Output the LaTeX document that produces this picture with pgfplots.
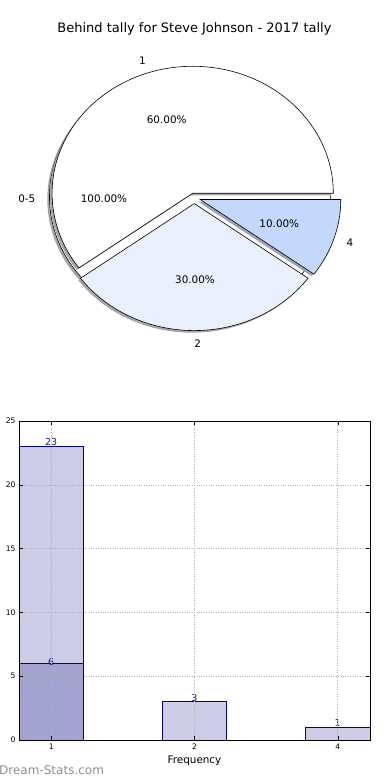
\documentclass[border=0pt]{standalone}
\usepackage{pgfplots}
\pgfplotsset{compat=1.18}
\usepackage{fontspec}
\setmainfont{DejaVu Sans}
\definecolor{wA}{HTML}{FFFFFF}
\definecolor{wB}{HTML}{E9F0FD}
\definecolor{wC}{HTML}{C4D8FE}
\definecolor{shW}{HTML}{A6A6A6}
\definecolor{shC}{HTML}{9DA4B3}
\definecolor{barL}{HTML}{CCCCE6}
\definecolor{barD}{HTML}{A3A3D1}
\definecolor{navyE}{HTML}{000080}
\definecolor{labC}{HTML}{1A1A8C}
\definecolor{gridc}{HTML}{B0B0B0}
\definecolor{wm}{HTML}{8E8E8E}

% pie data (counts of tallies)
\def\pA{6}\def\pB{3}\def\pC{1}
\pgfmathsetmacro\aA{360*\pA/(\pA+\pB+\pC)}
\pgfmathsetmacro\aB{\aA+360*\pB/(\pA+\pB+\pC)}

\begin{document}
\begin{tikzpicture}[x=1pt,y=1pt]
\useasboundingbox (0pt,0pt) rectangle (390pt,780pt);
% ---------------- pie ----------------
\begin{axis}[at={(0pt,0pt)}, anchor=south west, x=1pt, y=1pt,
  xmin=0, xmax=390, ymin=0, ymax=780, hide axis, clip=false]
  % outer 100% wedge "0-5"
  \fill[shW] (axis cs:187.9,580.9) ellipse [x radius=140.6pt, y radius=127pt];
  \filldraw[fill=wA, draw=black, line width=0.6pt] (axis cs:190.1,583) ellipse [x radius=140.6pt, y radius=127pt];
  % wedge 1
  \fill[shW] (axis cs:190.5,584.6) -- ++(0:140.6pt and 127pt) arc[start angle=0, end angle=\aA, x radius=140.6pt, y radius=127pt] -- cycle;
  \filldraw[fill=wA, draw=black, line width=0.6pt] (axis cs:192.7,586.7) -- ++(0:140.6pt and 127pt) arc[start angle=0, end angle=\aA, x radius=140.6pt, y radius=127pt] -- cycle;
  % wedge 2
  \fill[shW] (axis cs:192.1,574.3) -- ++(\aA:140.6pt and 127pt) arc[start angle=\aA, end angle=\aB, x radius=140.6pt, y radius=127pt] -- cycle;
  \filldraw[fill=wB, draw=black, line width=0.6pt] (axis cs:194.3,576.4) -- ++(\aA:140.6pt and 127pt) arc[start angle=\aA, end angle=\aB, x radius=140.6pt, y radius=127pt] -- cycle;
  % wedge 4
  \fill[shC] (axis cs:198,578.4) -- ++(\aB:140.6pt and 127pt) arc[start angle=\aB, end angle=360, x radius=140.6pt, y radius=127pt] -- cycle;
  \filldraw[fill=wC, draw=black, line width=0.6pt] (axis cs:200.2,580.5) -- ++(\aB:140.6pt and 127pt) arc[start angle=\aB, end angle=360, x radius=140.6pt, y radius=127pt] -- cycle;
  % labels
  \begin{scope}[font=\fontsize{10.4}{12}\selectfont]
  \node[anchor=east, inner sep=0] at (axis cs:35.5,581.7) {0-5};
  \node at (axis cs:104,581.7) {100.00\%};
  \node[anchor=east, inner sep=0] at (axis cs:146,719.3) {1};
  \node at (axis cs:166.7,660) {60.00\%};
  \node at (axis cs:197.7,436) {2};
  \node at (axis cs:195,500) {30.00\%};
  \node[anchor=west, inner sep=0] at (axis cs:346.5,537) {4};
  \node at (axis cs:279.3,556.7) {10.00\%};
  \end{scope}
  \node[font=\fontsize{13}{15}\selectfont] at (axis cs:194.5,751) {Behind tally for Steve Johnson - 2017 tally};
\end{axis}
% ---------------- bars ----------------
\begin{axis}[at={(19pt,40pt)}, anchor=south west, width=351pt, height=319pt, scale only axis,
  xmin=-0.225, xmax=2.225, ymin=0, ymax=25,
  xtick={0,1,2}, xticklabels={1,2,4}, ytick={0,5,10,15,20,25},
  grid=major, grid style={gridc, dotted, line width=0.6pt},
  axis on top, tick align=inside, major tick length=4pt,
  major tick style={black, line width=0.5pt},
  axis line style={black, line width=0.8pt},
  /pgf/number format/assume math mode=true,
  tick label style={font=\fontsize{7.6}{8}\selectfont},
  xlabel={Frequency},
  xlabel style={font=\fontsize{10.4}{12}\selectfont, at={(axis description cs:0.5,0)}, anchor=center, yshift=-21pt},
  ylabel={Tally Count},
  ylabel style={font=\fontsize{10.4}{12}\selectfont, at={(axis description cs:0,0.5)}, anchor=center, yshift=24pt},
]
  \addplot[ybar, bar shift=0pt, bar width=0.45, fill=barL, draw=navyE, line width=0.7pt] coordinates {(0,23) (1,3) (2,1)};
  \addplot[ybar, bar shift=0pt, bar width=0.45, fill=barD, draw=navyE, line width=0.7pt] coordinates {(0,6)};
  \begin{scope}[font=\fontsize{9.5}{10}\selectfont, text=labC]
  \node[anchor=south, inner sep=1pt] at (axis cs:0,23) {23};
  \node at (axis cs:0,6.1) {6};
  \node at (axis cs:1,3.25) {3};
  \node at (axis cs:2,1.3) {1};
  \end{scope}
\end{axis}
\node[anchor=west, inner sep=0, text=wm, font=\fontsize{12}{14}\selectfont] at (-1pt,10pt) {Dream-Stats.com};
\end{tikzpicture}
\end{document}
